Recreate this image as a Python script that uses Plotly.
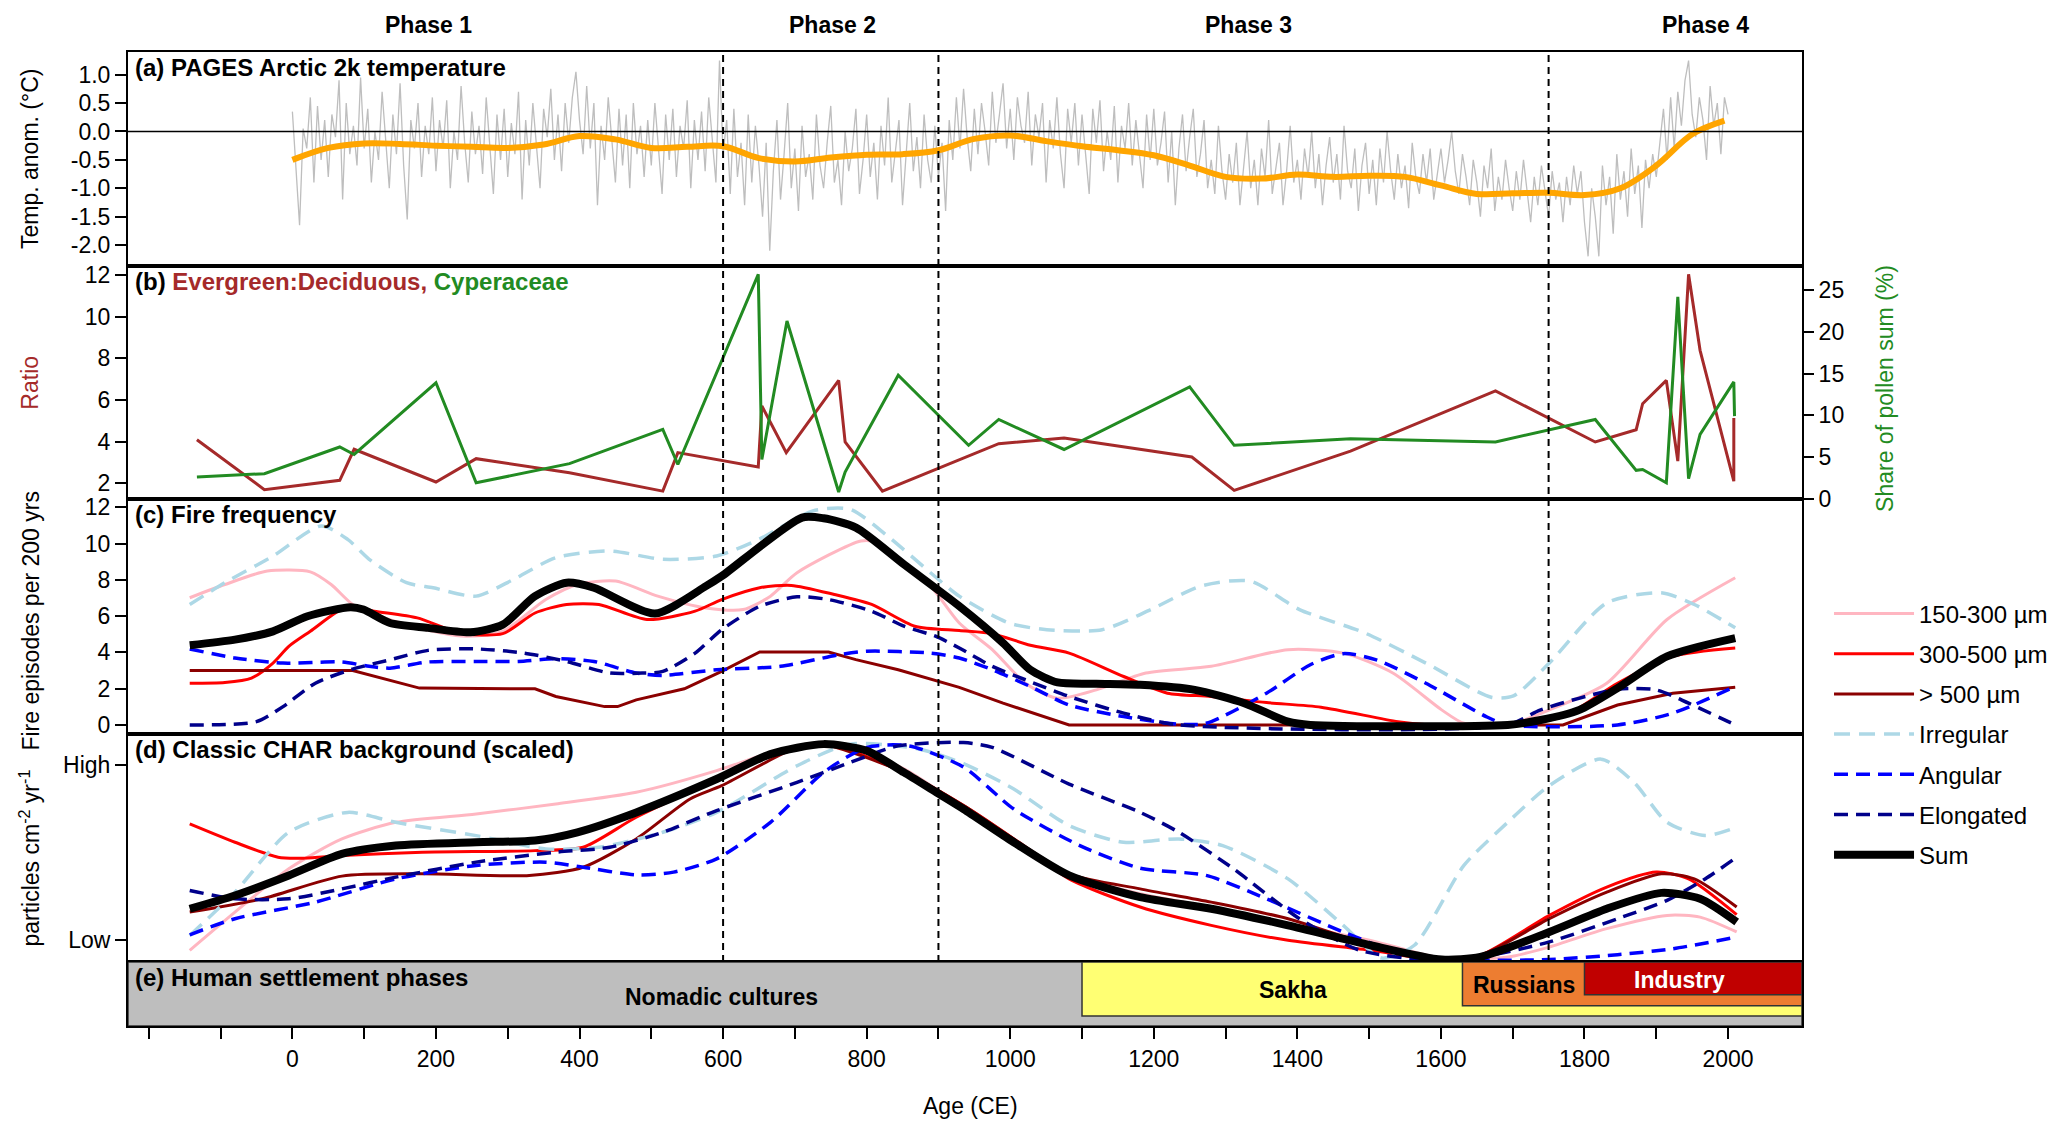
import plotly.graph_objects as go
from plotly.subplots import make_subplots

FONT = "Liberation Sans, Arial, sans-serif"

# ---------------- data ----------------
# (a) PAGES Arctic 2k temperature anomaly, 5-year steps
temp_years = list(range(0, 2001, 5))
temp_anom = [
    0.35, -0.7, -1.65, 0.05, -0.3, 0.6, -0.9, 0.45, -0.5, 0.2, -0.8, 0.3, -0.1, 0.9, -1.2, 0.5, -0.4, 0.1, -0.6, 0.95,
    -0.3, 0.4, -0.9, 0.0, -0.5, 0.7, -0.2, -1.0, 0.3, -0.4, 0.85, -0.6, -1.55, 0.2, -0.3, 0.5, -0.8, 0.1, -0.4, 0.6,
    -0.7, 0.2, -0.3, 0.55, -1.0, 0.0, -0.5, 0.8, -0.2, -0.9, 0.35, -0.4, 0.1, -0.75, 0.6, -0.3, -1.1, 0.3, -0.5, 0.4,
    -0.8, 0.15, -0.4, 0.7, -1.2, 0.2, -0.6, 0.5, -0.3, -1.0, 0.4, -0.1, 0.75, -0.5, 0.3, -0.7, 0.5, -0.2, 0.6, 1.05,
    0.2, -0.4, 0.8, -0.3, 0.5, -1.3, 0.1, -0.5, 0.6, -0.2, -0.9, 0.4, -0.6, 0.3, -1.0, 0.5, -0.4, 0.1, -0.8, 0.2,
    -0.6, 0.5, -0.3, -1.1, 0.3, -0.5, 0.4, -0.8, 0.1, -0.3, 0.55, -1.0, 0.2, -0.5, 0.35, -0.7, 0.6, -0.2, -0.9, 1.25,
    -0.4, 0.2, -1.1, 0.4, -0.8, -0.2, -1.3, 0.3, -0.9, 0.1, -0.6, -1.5, -0.2, -2.1, -0.7, 0.2, -1.2, -0.4, 0.5, -1.0,
    -0.3, -1.4, 0.1, -0.8, -0.4, -1.2, 0.3, -0.6, -1.0, -0.2, 0.45, -0.9, -0.5, -1.3, 0.0, -0.7, -0.3, 0.4, -1.1, -0.5,
    0.3, -0.8, -0.2, -1.2, 0.1, -0.6, 0.6, -0.9, -0.4, 0.2, -1.3, -0.3, 0.5, -0.7, -0.1, -1.0, 0.3, -0.5, -0.9, 0.1,
    -0.8, -0.2, -1.4, 0.2, -0.5, 0.6, -0.3, 0.75, -0.1, -0.7, 0.4, -0.4, 0.5, 0.0, -0.6, 0.7, -0.2, 0.3, 0.85, -0.3,
    0.4, -0.5, 0.6, 0.1, -0.2, 0.7, -0.6, 0.3, -0.1, 0.5, -0.9, 0.2, -0.3, 0.6, -0.4, -1.0, 0.4, -0.2, 0.5, -0.6,
    0.3, -0.4, -1.1, 0.4, -0.2, 0.55, -0.7, 0.0, -0.5, 0.45, -0.9, 0.1, -0.3, 0.5, -0.6, 0.2, -0.4, -1.0, 0.3, -0.5,
    0.4, -0.6, -0.2, 0.35, -0.9, 0.0, -1.3, -0.3, 0.3, -0.7, -0.1, 0.4, -0.8, -0.4, 0.2, -1.0, -0.5, -1.1, 0.1, -0.7,
    -1.2, -0.4, -0.9, -0.2, -1.3, -0.6, 0.0, -1.0, -0.5, -1.3, -0.3, -0.8, 0.2, -1.1, -0.6, -0.2, -1.3, -0.7, 0.1, -0.9,
    -0.5, -1.2, -0.3, -0.8, 0.0, -1.0, -0.4, -1.3, -0.6, -0.1, -0.9, -0.4, -1.2, 0.1, -0.7, -1.0, -0.3, -1.4, -0.6, -0.2,
    -1.1, -0.5, -1.3, -0.3, -0.9, 0.0, -0.7, -1.2, -0.4, -1.0, -0.6, -1.35, -0.2, -0.8, -1.1, -0.4, -0.9, -0.3, -1.2, -0.7,
    -0.3, -0.9, -0.5, 0.0, -0.7, -1.1, -0.4, -0.8, -1.3, -0.5, -0.9, -1.5, -0.6, -1.0, -0.3, -1.4, -0.8, -1.2, -0.5, -1.0,
    -1.4, -0.7, -1.2, -0.5, -1.0, -1.6, -0.8, -1.3, -0.6, -1.1, -1.5, -0.7, -1.2, -0.9, -1.6, -0.8, -1.3, -0.6, -1.1, -0.7,
    -1.6, -2.2, -1.0, -1.5, -2.2, -0.6, -1.3, -0.8, -1.8, -0.4, -1.2, -0.7, -1.5, -0.3, -1.1, -0.6, -1.7, -0.5, -1.0, -0.4,
    -0.8, -0.2, 0.4, -0.5, 0.6, -0.3, 0.7, 0.1, 0.9, 1.25, 0.3, -0.1, 0.6, 0.2, -0.5, 0.8, 0.1, 0.5, -0.4, 0.6,
    0.3,
]
smooth_years = [0, 50, 100, 150, 200, 250, 300, 350, 400, 450, 500, 550, 600, 650, 700, 750, 800, 850, 900, 950,
                1000, 1050, 1100, 1150, 1200, 1250, 1300, 1350, 1400, 1450, 1500, 1550, 1600, 1650, 1700, 1750,
                1800, 1850, 1900, 1950, 1995]
temp_smooth = [-0.5, -0.29, -0.21, -0.22, -0.25, -0.27, -0.29, -0.23, -0.08, -0.14, -0.29, -0.27, -0.26, -0.47,
               -0.53, -0.46, -0.41, -0.4, -0.33, -0.13, -0.07, -0.17, -0.26, -0.33, -0.42, -0.6, -0.8, -0.83,
               -0.76, -0.8, -0.78, -0.8, -0.95, -1.1, -1.09, -1.08, -1.12, -1.0, -0.6, -0.05, 0.19]

# (b) pollen
ed_age = [-133, -39, 66, 86, 200, 256, 386, 516, 537, 649, 654, 688, 761, 770, 822, 984, 1075, 1253, 1312,
          1474, 1676, 1815, 1872, 1881, 1914, 1930, 1945, 1961, 2008, 2008]
ed_ratio = [4.09, 1.69, 2.14, 3.63, 2.06, 3.18, 2.5, 1.62, 3.47, 2.78, 5.71, 3.47, 6.94, 3.98, 1.62, 3.9, 4.17,
            3.26, 1.66, 3.54, 6.43, 3.98, 4.57, 5.82, 6.94, 3.06, 12.03, 8.38, 2.1, 5.13]
cyp_age = [-133, -39, 66, 86, 200, 256, 386, 516, 537, 649, 654, 689, 761, 770, 844, 942, 984, 1075, 1250,
           1312, 1474, 1676, 1815, 1872, 1881, 1914, 1930, 1945, 1961, 2008, 2009]
cyp_pct = [2.6, 3.0, 6.2, 5.3, 13.9, 1.9, 4.2, 8.3, 4.1, 26.9, 4.7, 21.3, 0.8, 3.2, 14.8, 6.4, 9.5, 5.9, 13.4,
           6.4, 7.2, 6.8, 9.5, 3.4, 3.5, 1.9, 24.2, 2.4, 7.7, 14.0, 9.9]

# (c) fire frequency (episodes per 200 yrs)
ff_s1_age = [-143, -94, -35, 25, 54, 84, 122, 174, 241, 293, 353, 397, 450, 509, 576, 628, 666, 703, 792, 815,
             889, 929, 975, 1021, 1066, 1120, 1189, 1280, 1387, 1464, 1533, 1601, 1632, 1693, 1751, 1831, 1915, 2010]
ff_s1 = [7.01, 7.74, 8.48, 8.44, 7.74, 6.64, 5.99, 5.35, 4.89, 5.16, 6.91, 7.74, 7.93, 7.1, 6.45, 6.36, 7.1, 8.39,
         10.14, 10.05, 7.65, 5.62, 4.15, 2.3, 1.47, 1.93, 2.86, 3.23, 4.15, 3.96, 2.86, 0.83, 0.09, 0.0, 0.83, 2.3,
         5.81, 8.11]
ff_s2_age = [-143, -94, -57, -27, -5, 25, 77, 114, 174, 233, 293, 338, 382, 427, 494, 561, 598, 651, 695, 755,
             807, 867, 929, 975, 1028, 1082, 1158, 1219, 1280, 1357, 1433, 1540, 1586, 1693, 1770, 1846, 1923, 2010]
ff_s2 = [2.3, 2.34, 2.58, 3.41, 4.33, 5.16, 6.54, 6.27, 5.9, 5.07, 5.03, 6.17, 6.64, 6.64, 5.81, 6.27, 6.91, 7.56,
         7.69, 7.19, 6.64, 5.44, 5.2, 5.03, 4.39, 3.96, 2.67, 1.75, 1.57, 1.23, 0.98, 0.18, 0.0, 0.0, 0.46, 2.3,
         3.78, 4.24]
ff_s3_age = [-143, 84, 177, 338, 367, 435, 453, 479, 546, 598, 651, 747, 785, 844, 929, 990, 1082, 1770, 1846,
             1923, 2010]
ff_s3 = [3.0, 3.0, 2.03, 1.99, 1.57, 1.01, 1.01, 1.38, 1.99, 2.95, 4.02, 4.02, 3.6, 3.04, 2.07, 1.2, 0.0, 0.0,
         1.1, 1.75, 2.08]
ff_irr_age = [-143, -94, -27, 40, 77, 107, 159, 196, 256, 308, 367, 442, 516, 591, 650, 725, 777, 829, 889, 929,
              998, 1051, 1128, 1196, 1265, 1334, 1403, 1494, 1579, 1670, 1701, 1751, 1831, 1907, 1953, 2010]
ff_irr = [6.64, 7.84, 9.31, 10.97, 10.23, 9.13, 7.84, 7.56, 7.1, 8.02, 9.22, 9.59, 9.13, 9.31, 10.23, 11.8, 11.89,
          10.42, 8.39, 7.1, 5.62, 5.25, 5.25, 6.36, 7.65, 7.93, 6.36, 5.07, 3.41, 1.53, 1.6, 3.41, 6.73, 7.28,
          6.64, 5.35]
ff_ang_age = [-143, -80, -13, 69, 107, 136, 189, 256, 315, 367, 420, 479, 516, 591, 680, 762, 800, 889, 929, 975,
              1028, 1082, 1158, 1235, 1273, 1357, 1418, 1464, 1510, 1579, 1663, 1693, 1846, 1923, 2010]
ff_ang = [4.19, 3.69, 3.41, 3.47, 3.23, 3.13, 3.47, 3.5, 3.5, 3.65, 3.5, 2.86, 2.73, 3.04, 3.23, 3.87, 4.06, 3.96,
          3.69, 3.04, 2.12, 1.1, 0.46, 0.04, 0.09, 1.75, 3.32, 3.93, 3.59, 2.3, 0.46, 0.0, 0.0, 0.65, 2.12]
ff_elo_age = [-143, -50, -13, 32, 84, 136, 189, 256, 323, 382, 442, 487, 516, 561, 598, 651, 703, 747, 807, 852,
              896, 929, 975, 1021, 1082, 1158, 1235, 1693, 1739, 1846, 1900, 1945, 2010]
ff_elo = [0.0, 0.18, 1.01, 2.3, 3.08, 3.59, 4.11, 4.19, 3.96, 3.5, 2.86, 2.86, 2.95, 3.96, 5.25, 6.54, 7.06, 6.91,
          6.27, 5.44, 4.89, 4.24, 3.23, 2.49, 1.57, 0.65, 0.0, 0.0, 0.83, 1.97, 1.93, 1.2, 0.0]
ff_sum_age = [-143, -80, -27, 21, 81, 99, 136, 189, 248, 293, 338, 382, 420, 505, 576, 598, 710, 740, 785, 852,
              929, 990, 1028, 1066, 1120, 1181, 1257, 1326, 1387, 1418, 1693, 1739, 1793, 1846, 1915, 2010]
ff_sum = [4.39, 4.7, 5.16, 5.99, 6.49, 6.36, 5.62, 5.35, 5.11, 5.53, 7.1, 7.84, 7.56, 6.14, 7.65, 8.2, 11.43,
          11.39, 10.88, 8.85, 6.55, 4.52, 3.04, 2.34, 2.27, 2.21, 1.93, 1.2, 0.18, 0.0, 0.0, 0.27, 0.83, 2.03,
          3.78, 4.79]

# (d) CHAR background, scaled (0 = Low, 1 = High)
bg_s1_age = [-143, -80, -5, 69, 144, 256, 367, 479, 591, 666, 710, 777, 852, 935, 1005, 1082, 1181, 1280, 1387,
             1502, 1601, 1693, 1751, 1831, 1915, 1961, 2012]
bg_s1 = [-0.059, 0.16, 0.408, 0.579, 0.674, 0.722, 0.779, 0.846, 0.97, 1.074, 1.112, 1.103, 0.98, 0.76, 0.579,
         0.379, 0.265, 0.189, 0.093, -0.002, -0.103, -0.097, -0.04, 0.065, 0.141, 0.131, 0.046]
bg_s2_age = [-143, -80, -20, 17, 69, 181, 338, 405, 479, 591, 666, 740, 852, 935, 1005, 1082, 1181, 1280, 1387,
             1502, 1601, 1655, 1751, 1831, 1900, 1945, 2012]
bg_s2 = [0.665, 0.56, 0.474, 0.469, 0.484, 0.503, 0.512, 0.531, 0.703, 0.922, 1.07, 1.128, 0.96, 0.77, 0.579, 0.35,
         0.189, 0.084, -0.002, -0.059, -0.116, -0.088, 0.141, 0.303, 0.389, 0.35, 0.145]
bg_s3_age = [-143, -42, 69, 181, 330, 405, 479, 554, 598, 703, 740, 852, 935, 1005, 1082, 1181, 1280, 1387, 1502,
             1601, 1655, 1751, 1831, 1907, 1953, 2012]
bg_s3 = [0.16, 0.236, 0.366, 0.379, 0.37, 0.417, 0.579, 0.808, 0.884, 1.103, 1.12, 0.96, 0.77, 0.579, 0.379, 0.293,
         0.217, 0.122, -0.03, -0.112, -0.088, 0.122, 0.274, 0.379, 0.35, 0.189]
bg_irr_age = [-143, -80, -5, 77, 144, 256, 353, 427, 516, 591, 703, 777, 874, 935, 1005, 1082, 1158, 1235, 1296,
              1387, 1464, 1517, 1563, 1632, 1693, 1751, 1823, 1869, 1915, 1968, 2012]
bg_irr = [0.026, 0.274, 0.617, 0.731, 0.674, 0.598, 0.522, 0.531, 0.617, 0.731, 0.998, 1.122, 1.093, 1.01, 0.865,
          0.655, 0.56, 0.579, 0.541, 0.35, 0.084, -0.103, -0.03, 0.427, 0.674, 0.884, 1.036, 0.903, 0.674, 0.598,
          0.646]
bg_ang_age = [-143, -80, 32, 144, 256, 353, 405, 479, 531, 591, 666, 740, 800, 859, 935, 1005, 1097, 1181, 1273,
              1357, 1464, 1563, 1655, 1751, 1846, 1923, 2012]
bg_ang = [0.03, 0.122, 0.217, 0.35, 0.427, 0.446, 0.417, 0.373, 0.389, 0.465, 0.674, 0.96, 1.103, 1.112, 0.99,
          0.75, 0.541, 0.411, 0.37, 0.236, 0.046, -0.103, -0.116, -0.112, -0.084, -0.05, 0.017]
bg_elo_age = [-143, -80, -5, 69, 144, 256, 367, 442, 516, 591, 703, 777, 844, 935, 975, 1082, 1181, 1235, 1311,
              1403, 1487, 1579, 1655, 1751, 1846, 1915, 1968, 2012]
bg_elo = [0.284, 0.236, 0.236, 0.293, 0.36, 0.446, 0.503, 0.531, 0.617, 0.741, 0.903, 1.017, 1.112, 1.131, 1.103,
          0.893, 0.731, 0.617, 0.408, 0.122, -0.059, -0.112, -0.097, -0.011, 0.122, 0.227, 0.35, 0.474]
bg_sum_age = [-143, -80, -5, 69, 144, 256, 338, 397, 479, 591, 666, 740, 800, 852, 897, 935, 1005, 1082, 1181,
              1280, 1387, 1502, 1601, 1655, 1751, 1831, 1907, 1961, 2012]
bg_sum = [0.179, 0.255, 0.37, 0.493, 0.541, 0.56, 0.57, 0.617, 0.731, 0.922, 1.065, 1.122, 1.084, 0.96, 0.846,
          0.75, 0.56, 0.37, 0.246, 0.179, 0.084, -0.03, -0.112, -0.097, 0.046, 0.179, 0.27, 0.236, 0.103]

# (e) settlement phases
settle_names = ["Nomadic cultures", "Sakha", "Russians", "Industry"]
settle_start = [-229, 1100, 1630, 1800]
settle_end = [2103, 2103, 2103, 2103]
settle_colors = ["#BEBEBE", "#FFFF73", "#ED7D31", "#C00000"]
settle_label_x = [598, 1394, 1716, 1932]

phase_bounds = [600, 900, 1750]
phase_names = ["Phase 1", "Phase 2", "Phase 3", "Phase 4"]
phase_label_x = [190, 752, 1332, 1968]

x_major = list(range(0, 2001, 200))
x_minor = [-200] + list(range(-100, 2001, 200))

# ---------------- figure ----------------
fig = make_subplots(rows=5, cols=1, shared_xaxes=True, vertical_spacing=0,
                    row_heights=[213.7, 233.3, 234.7, 228, 64.3],
                    specs=[[{}], [{"secondary_y": True}], [{}], [{}], [{}]])

# (a)
fig.add_trace(go.Scatter(x=temp_years, y=temp_anom, mode="lines", line=dict(color="#BEBEBE", width=1.3),
                         showlegend=False), row=1, col=1)
fig.add_trace(go.Scatter(x=smooth_years, y=temp_smooth, mode="lines", line=dict(color="#FFA500", width=6,
                         shape="spline", smoothing=1), showlegend=False), row=1, col=1)

# (b)
fig.add_trace(go.Scatter(x=ed_age, y=ed_ratio, mode="lines", line=dict(color="#A52A2A", width=3),
                         showlegend=False), row=2, col=1, secondary_y=False)
fig.add_trace(go.Scatter(x=cyp_age, y=cyp_pct, mode="lines", line=dict(color="#228B22", width=3),
                         showlegend=False), row=2, col=1, secondary_y=True)

# (c) and (d)
series = [
    ("150-300 µm", "#FFB6C1", "solid", 3, ff_s1_age, ff_s1, bg_s1_age, bg_s1),
    ("300-500 µm", "#FF0000", "solid", 3, ff_s2_age, ff_s2, bg_s2_age, bg_s2),
    ("> 500 µm", "#8B0000", "solid", 3, ff_s3_age, ff_s3, bg_s3_age, bg_s3),
    ("Irregular", "#ADD8E6", "16px,9px", 3.5, ff_irr_age, ff_irr, bg_irr_age, bg_irr),
    ("Angular", "#0000FF", "14px,8px", 3.5, ff_ang_age, ff_ang, bg_ang_age, bg_ang),
    ("Elongated", "#00008B", "14px,8px", 3.5, ff_elo_age, ff_elo, bg_elo_age, bg_elo),
    ("Sum", "#000000", "solid", 8, ff_sum_age, ff_sum, bg_sum_age, bg_sum),
]
for i, (name, col, dash, w, fa, fv, ba, bv) in enumerate(series):
    shape_c = "linear" if name == "> 500 µm" else "spline"
    fig.add_trace(go.Scatter(x=fa, y=fv, mode="lines", name=name, legendgroup=name,
                             line=dict(color=col, width=w, dash=dash, shape=shape_c, smoothing=0.7)),
                  row=3, col=1)
    fig.add_trace(go.Scatter(x=ba, y=bv, mode="lines", name=name, legendgroup=name, showlegend=False,
                             line=dict(color=col, width=w, dash=dash, shape="spline", smoothing=0.7)),
                  row=4, col=1)

# (e) settlement boxes
box_bottom = [0.0, 0.156, 0.316, 0.49]
fig.add_trace(go.Bar(
    y=[(1 + b) / 2 for b in box_bottom],
    x=[e - s for s, e in zip(settle_start, settle_end)],
    base=settle_start,
    width=[1 - b for b in box_bottom],
    orientation="h",
    marker=dict(color=settle_colors, line=dict(color="#333333", width=1.5)),
    showlegend=False, hoverinfo="skip"), row=5, col=1)

label_y = [0.45, 0.56, 0.64, 0.72]
label_col = ["black", "black", "black", "white"]
for nm, lx, ly, lc in zip(settle_names, settle_label_x, label_y, label_col):
    fig.add_annotation(x=lx, y=ly, xref="x5", yref="y6", text="<b>%s</b>" % nm, showarrow=False,
                       font=dict(family=FONT, size=23, color=lc))

# ---------------- axes ----------------
tickfont = dict(family=FONT, size=23, color="black")
fig.update_xaxes(range=[-229, 2103], domain=[0, 1], showline=True, mirror=True, linecolor="black", linewidth=2,
                 showgrid=False, zeroline=False, tickvals=x_major, ticks="", showticklabels=False,
                 automargin=False)
fig.update_xaxes(row=5, col=1, ticks="outside", ticklen=11, tickwidth=1.5, tickcolor="black",
                 showticklabels=True, tickfont=tickfont,
                 minor=dict(tickvals=x_minor, ticks="outside", ticklen=11, tickwidth=1.5, tickcolor="black",
                            showgrid=False))

yax = dict(showline=True, mirror=True, linecolor="black", linewidth=2, showgrid=False, zeroline=False,
           ticks="outside", ticklen=11, tickwidth=1.5, tickcolor="black", tickfont=tickfont, automargin=False)

a_ticks = [-2.0, -1.5, -1.0, -0.5, 0.0, 0.5, 1.0]
fig.update_yaxes(row=1, col=1, range=[-2.37, 1.40], tickvals=a_ticks,
                 ticktext=["%.1f" % v for v in a_ticks], domain=[0.7803, 1.0], **yax)
fig.update_yaxes(row=2, col=1, secondary_y=False, range=[1.23, 12.43], tickvals=[2, 4, 6, 8, 10, 12],
                 domain=[0.5408, 0.7803], **yax)
fig.update_yaxes(row=2, col=1, secondary_y=True, range=[-0.07, 27.9], tickvals=[0, 5, 10, 15, 20, 25],
                 domain=[0.5408, 0.7803], showgrid=False, zeroline=False, ticks="outside", ticklen=11,
                 tickwidth=1.5, tickcolor="black", tickfont=tickfont, showline=False, automargin=False)
fig.update_yaxes(row=3, col=1, range=[-0.5, 12.44], tickvals=[0, 2, 4, 6, 8, 10, 12],
                 domain=[0.2998, 0.5408], **yax)
fig.update_yaxes(row=4, col=1, range=[-0.126, 1.18], tickvals=[0, 1], ticktext=["Low", "High"],
                 domain=[0.0657, 0.2998], **yax)
fig.update_yaxes(row=5, col=1, range=[0, 1], domain=[0.0, 0.0657], showline=True, mirror=True,
                 linecolor="black", linewidth=2, showgrid=False, zeroline=False, showticklabels=False, ticks="",
                 automargin=False)

# ---------------- shapes ----------------
shapes = [dict(type="line", xref="x domain", yref="y", x0=0, x1=1, y0=0, y1=0,
               line=dict(color="black", width=1.5))]
for b in phase_bounds:
    shapes.append(dict(type="line", xref="x", yref="paper", x0=b, x1=b, y0=0.0657, y1=1.0,
                       line=dict(color="black", width=2, dash="7px,5px")))
fig.update_layout(shapes=shapes)

# ---------------- annotations ----------------
for nm, px in zip(phase_names, phase_label_x):
    fig.add_annotation(x=px, y=1.0, xref="x", yref="paper", text="<b>%s</b>" % nm, showarrow=False,
                       yanchor="middle", yshift=27, font=dict(family=FONT, size=23, color="black"))

panel_titles = [
    ("<b>(a) PAGES Arctic 2k temperature</b>", 1.0),
    ("<b>(b) <span style='color:#A52A2A'>Evergreen:Deciduous,</span> "
     "<span style='color:#228B22'>Cyperaceae</span></b>", 0.7803),
    ("<b>(c) Fire frequency</b>", 0.5408),
    ("<b>(d) Classic CHAR background (scaled)</b>", 0.2998),
    ("<b>(e) Human settlement phases</b>", 0.0657),
]
for txt, top in panel_titles:
    fig.add_annotation(x=0.003, y=top, xref="paper", yref="paper", text=txt, showarrow=False,
                       xanchor="left", yanchor="top", yshift=0, font=dict(family=FONT, size=24, color="black"))

axis_titles = [
    ("Temp. anom. (°C)", 0.8902, "black"),
    ("Ratio", 0.6606, "#A52A2A"),
    ("Fire episodes per 200 yrs", 0.4163, "black"),
    ("particles cm<sup>-2</sup> yr<sup>-1</sup>", 0.172, "black"),
]
for txt, yc, col in axis_titles:
    fig.add_annotation(x=-0.0585, y=yc, xref="paper", yref="paper", text=txt, showarrow=False,
                       textangle=-90, xanchor="center", yanchor="middle",
                       font=dict(family=FONT, size=23, color=col))
fig.add_annotation(x=1.0495, y=0.655, xref="paper", yref="paper", text="Share of pollen sum (%)",
                   showarrow=False, textangle=-90, xanchor="center", yanchor="middle",
                   font=dict(family=FONT, size=23, color="#228B22"))
fig.add_annotation(x=0.503, y=0.0, xref="paper", yref="paper", text="Age (CE)", showarrow=False,
                   yanchor="middle", yshift=-80, font=dict(family=FONT, size=23, color="black"))

fig.update_layout(
    width=2067, height=1135,
    margin=dict(l=120, r=273, t=44, b=117, autoexpand=False),
    paper_bgcolor="white", plot_bgcolor="white",
    barmode="overlay",
    font=dict(family=FONT, size=22, color="black"),
    legend=dict(xref="container", yref="container", x=0.881, y=0.486, xanchor="left", yanchor="top",
                traceorder="grouped", tracegroupgap=6, itemwidth=80,
                font=dict(family=FONT, size=24, color="black"), bgcolor="rgba(0,0,0,0)"),
)

fig.write_html("out.html")
